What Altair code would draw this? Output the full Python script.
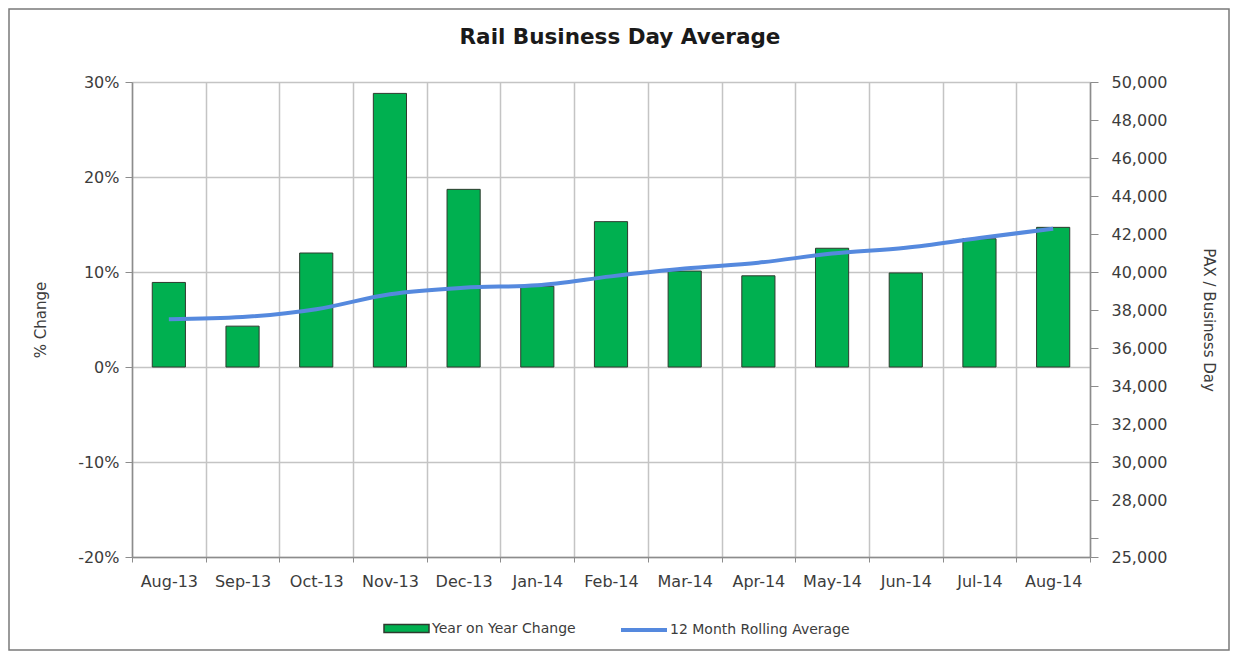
import altair as alt
import pandas as pd

months = ["Aug-13", "Sep-13", "Oct-13", "Nov-13", "Dec-13", "Jan-14", "Feb-14",
          "Mar-14", "Apr-14", "May-14", "Jun-14", "Jul-14", "Aug-14"]
yoy_change = [0.089, 0.043, 0.120, 0.288, 0.187, 0.085, 0.153,
              0.101, 0.096, 0.125, 0.099, 0.135, 0.147]
rolling_avg = [37510, 37630, 38040, 38830, 39170, 39300, 39770,
               40180, 40490, 40970, 41280, 41790, 42280]
pct_ticks = [-0.2, -0.1, 0.0, 0.1, 0.2, 0.3]
pax_ticks = [25000, 26000, 28000, 30000, 32000, 34000, 36000, 38000,
             40000, 42000, 44000, 46000, 48000, 50000]
series_bar = "Year on Year Change"
series_line = "12 Month Rolling Average"

df = pd.DataFrame({
    "Month": months,
    "YoY": yoy_change,
    "Avg": rolling_avg,
    "s1": series_bar,
    "s2": series_line,
})

FONT = "DejaVu Sans"
GRID = "#c4c4c4"
AXIS = "#8c8c8c"
TXT = "#3c3c3c"

x_enc = alt.X(
    "Month:N", sort=months, title=None,
    scale=alt.Scale(paddingInner=0, paddingOuter=0),
    axis=alt.Axis(
        tickBand="extent", grid=True, gridColor=GRID, gridWidth=1.5,
        labelAngle=0, labelFont=FONT, labelFontSize=16, labelColor=TXT,
        labelPadding=11, tickSize=5, tickColor=AXIS, domainColor=AXIS,
        domainWidth=1.5,
    ),
)

bars = alt.Chart(df).mark_bar(
    width=alt.RelativeBandSize(band=0.45), stroke="#2e3a2e", strokeWidth=1
).encode(
    x=x_enc,
    y=alt.Y(
        "YoY:Q",
        scale=alt.Scale(domain=[-0.2, 0.3], nice=False, zero=False),
        axis=alt.Axis(
            values=pct_ticks, labelExpr="round(datum.value*100) + '%'",
            title="% Change", grid=True, gridColor=GRID, gridWidth=1.5,
            domainColor=AXIS, domainWidth=1.5, tickColor=AXIS, tickSize=7,
            labelPadding=6, labelFont=FONT, labelFontSize=16, labelColor=TXT,
            titleFont=FONT, titleFontSize=15, titleFontWeight="normal",
            titleColor=TXT, titlePadding=29,
        ),
    ),
    fill=alt.Fill(
        "s1:N",
        scale=alt.Scale(domain=[series_bar], range=["#00b050"]),
        legend=alt.Legend(
            orient="none", legendX=251, legendY=523, title=None, padding=0,
            symbolType="M-1,-0.18H1V0.18H-1Z", symbolSize=2025,
            symbolStrokeColor="#2e3a2e", symbolStrokeWidth=1.5,
            labelFont=FONT, labelFontSize=14, labelColor=TXT, labelOffset=2,
            labelLimit=300,
        ),
    ),
)

line = alt.Chart(df).mark_line(strokeWidth=4, interpolate="monotone").encode(
    x=x_enc,
    y=alt.Y(
        "Avg:Q",
        scale=alt.Scale(domain=[25000, 50000], nice=False, zero=False),
        axis=alt.Axis(
            orient="right", values=pax_ticks,
            labelExpr="datum.value == 26000 ? '' : format(datum.value, ',')",
            title="PAX / Business Day", grid=False,
            domainColor=AXIS, domainWidth=1.5, tickColor=AXIS, tickSize=8,
            labelPadding=13, labelFont=FONT, labelFontSize=16, labelColor=TXT,
            titleFont=FONT, titleFontSize=15, titleFontWeight="normal",
            titleColor=TXT, titlePadding=34,
        ),
    ),
    stroke=alt.Stroke(
        "s2:N",
        scale=alt.Scale(domain=[series_line], range=["#5589de"]),
        legend=alt.Legend(
            orient="none", legendX=487, legendY=523, title=None, padding=0,
            symbolType="stroke", symbolSize=2116, symbolStrokeWidth=4,
            labelFont=FONT, labelFontSize=14, labelColor=TXT, labelOffset=1,
            labelLimit=300,
        ),
    ),
)

border = alt.Chart(pd.DataFrame({"k": [0]})).mark_rect(
    filled=False, stroke="#7a7a7a", strokeWidth=1.5
).encode(
    x=alt.value(-123), x2=alt.value(1097), y=alt.value(-73), y2=alt.value(568)
)

chart = alt.layer(bars, line, border).resolve_scale(
    y="independent"
).properties(
    width=958,
    height=475,
    title=alt.TitleParams(
        "Rail Business Day Average", font=FONT, fontSize=21.5,
        fontWeight="bold", color="#1a1a1a", anchor="middle", offset=-40, dx=9,
    ),
    autosize=alt.AutoSizeParams(type="none"),
    padding={"left": 124, "top": 74, "right": 140, "bottom": 94},
).configure_view(strokeWidth=0)

chart.save("out.html", embed_options={"renderer": "svg", "actions": False})
